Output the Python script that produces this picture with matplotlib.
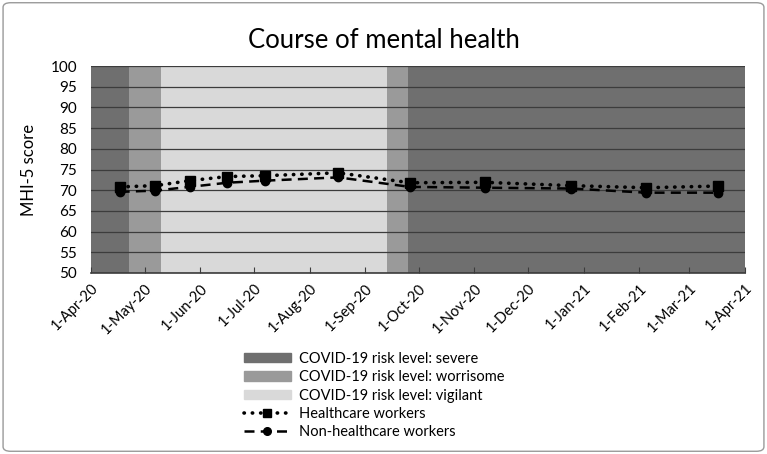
import matplotlib
matplotlib.use("Agg")
import matplotlib.pyplot as plt
from matplotlib.patches import Patch, FancyBboxPatch
from matplotlib.lines import Line2D
import pandas as pd

plt.rcParams['font.family'] = ['Lato', 'DejaVu Sans']

# measurement dates and MHI-5 scores
dates = pd.to_datetime([
    "2020-04-17", "2020-05-07", "2020-05-26", "2020-06-16", "2020-07-07",
    "2020-08-17", "2020-09-26", "2020-11-07", "2020-12-25", "2021-02-05",
    "2021-03-17",
])
healthcare = [70.8, 71.1, 72.3, 73.3, 73.5, 74.2, 71.8, 71.9, 71.1, 70.6, 71.0]
non_healthcare = [69.6, 69.9, 70.8, 71.8, 72.3, 73.1, 70.8, 70.6, 70.4, 69.4, 69.4]

# COVID-19 risk level periods
band_starts = pd.to_datetime(["2020-04-01", "2020-04-22", "2020-05-10", "2020-09-13", "2020-09-25"])
band_ends = pd.to_datetime(["2020-04-22", "2020-05-10", "2020-09-13", "2020-09-25", "2021-04-01"])
band_levels = ["severe", "worrisome", "vigilant", "worrisome", "severe"]

level_colors = {"severe": "#6f6f6f", "worrisome": "#9a9a9a", "vigilant": "#d9d9d9"}

fig = plt.figure(figsize=(7.67, 4.54), dpi=100)
ax = fig.add_axes([0.1186, 0.3987, 0.8527, 0.4559])

for s, e, lvl in zip(band_starts, band_ends, band_levels):
    ax.axvspan(s, e, color=level_colors[lvl], lw=0, zorder=0)

ax.set_ylim(50, 100)
ax.set_yticks(range(50, 101, 5))
ax.set_xlim(pd.Timestamp("2020-04-01"), pd.Timestamp("2021-04-01"))
ax.grid(axis='y', color='#3c3c3c', linewidth=0.9, zorder=1)
ax.set_axisbelow(False)

ax.plot(dates, healthcare, color='black', linestyle=(0, (0.1, 2.2)), linewidth=2.6,
        dash_capstyle='round', marker='s', markersize=6.5, zorder=3)
ax.plot(dates, non_healthcare, color='black', linestyle=(0, (4, 2.5)), linewidth=1.8,
        marker='o', markersize=6, zorder=3)

months = pd.date_range("2020-04-01", "2021-04-01", freq="MS")
ax.set_xticks(months)
ax.set_xticklabels([f"1-{d.strftime('%b')}-{d.strftime('%y')}" for d in months])
for lbl in ax.get_xticklabels():
    lbl.set_rotation(45)
    lbl.set_ha('right')
    lbl.set_rotation_mode('anchor')

ax.tick_params(axis='x', direction='in', length=4, color='#3c3c3c', labelsize=10.5, pad=6)
ax.tick_params(axis='y', length=0, labelsize=11, pad=10)
for side in ['top', 'right', 'left']:
    ax.spines[side].set_visible(False)
ax.spines['bottom'].set_color('#3c3c3c')
ax.spines['bottom'].set_linewidth(1.2)

ax.set_ylabel("MHI-5 score", fontsize=12, labelpad=10)
fig.text(0.5, 0.91, "Course of mental health", ha='center', va='center', fontsize=18.5)

handles = [
    Patch(color=level_colors["severe"], label="COVID-19 risk level: severe"),
    Patch(color=level_colors["worrisome"], label="COVID-19 risk level: worrisome"),
    Patch(color=level_colors["vigilant"], label="COVID-19 risk level: vigilant"),
    Line2D([], [], color='black', linestyle=(0, (0.1, 2.2)), linewidth=2.6,
           dash_capstyle='round', marker='s', markersize=6, label="Healthcare workers"),
    Line2D([], [], color='black', linestyle=(0, (4, 2.5)), linewidth=1.8,
           marker='o', markersize=5.5, label="Non-healthcare workers"),
]
fig.legend(handles=handles, loc='upper left', bbox_to_anchor=(0.318, 0.225),
           frameon=False, fontsize=10.5, handlelength=3.2, handleheight=0.6,
           labelspacing=0.3, handletextpad=0.6, numpoints=1, borderpad=0,
           borderaxespad=0)

border = FancyBboxPatch((0.004, 0.006), 0.992, 0.988, boxstyle="round,pad=0,rounding_size=0.01",
                        transform=fig.transFigure, facecolor='none', edgecolor='#9a9a9a',
                        linewidth=1.0)
fig.add_artist(border)

fig.savefig("out.png", dpi=100)
